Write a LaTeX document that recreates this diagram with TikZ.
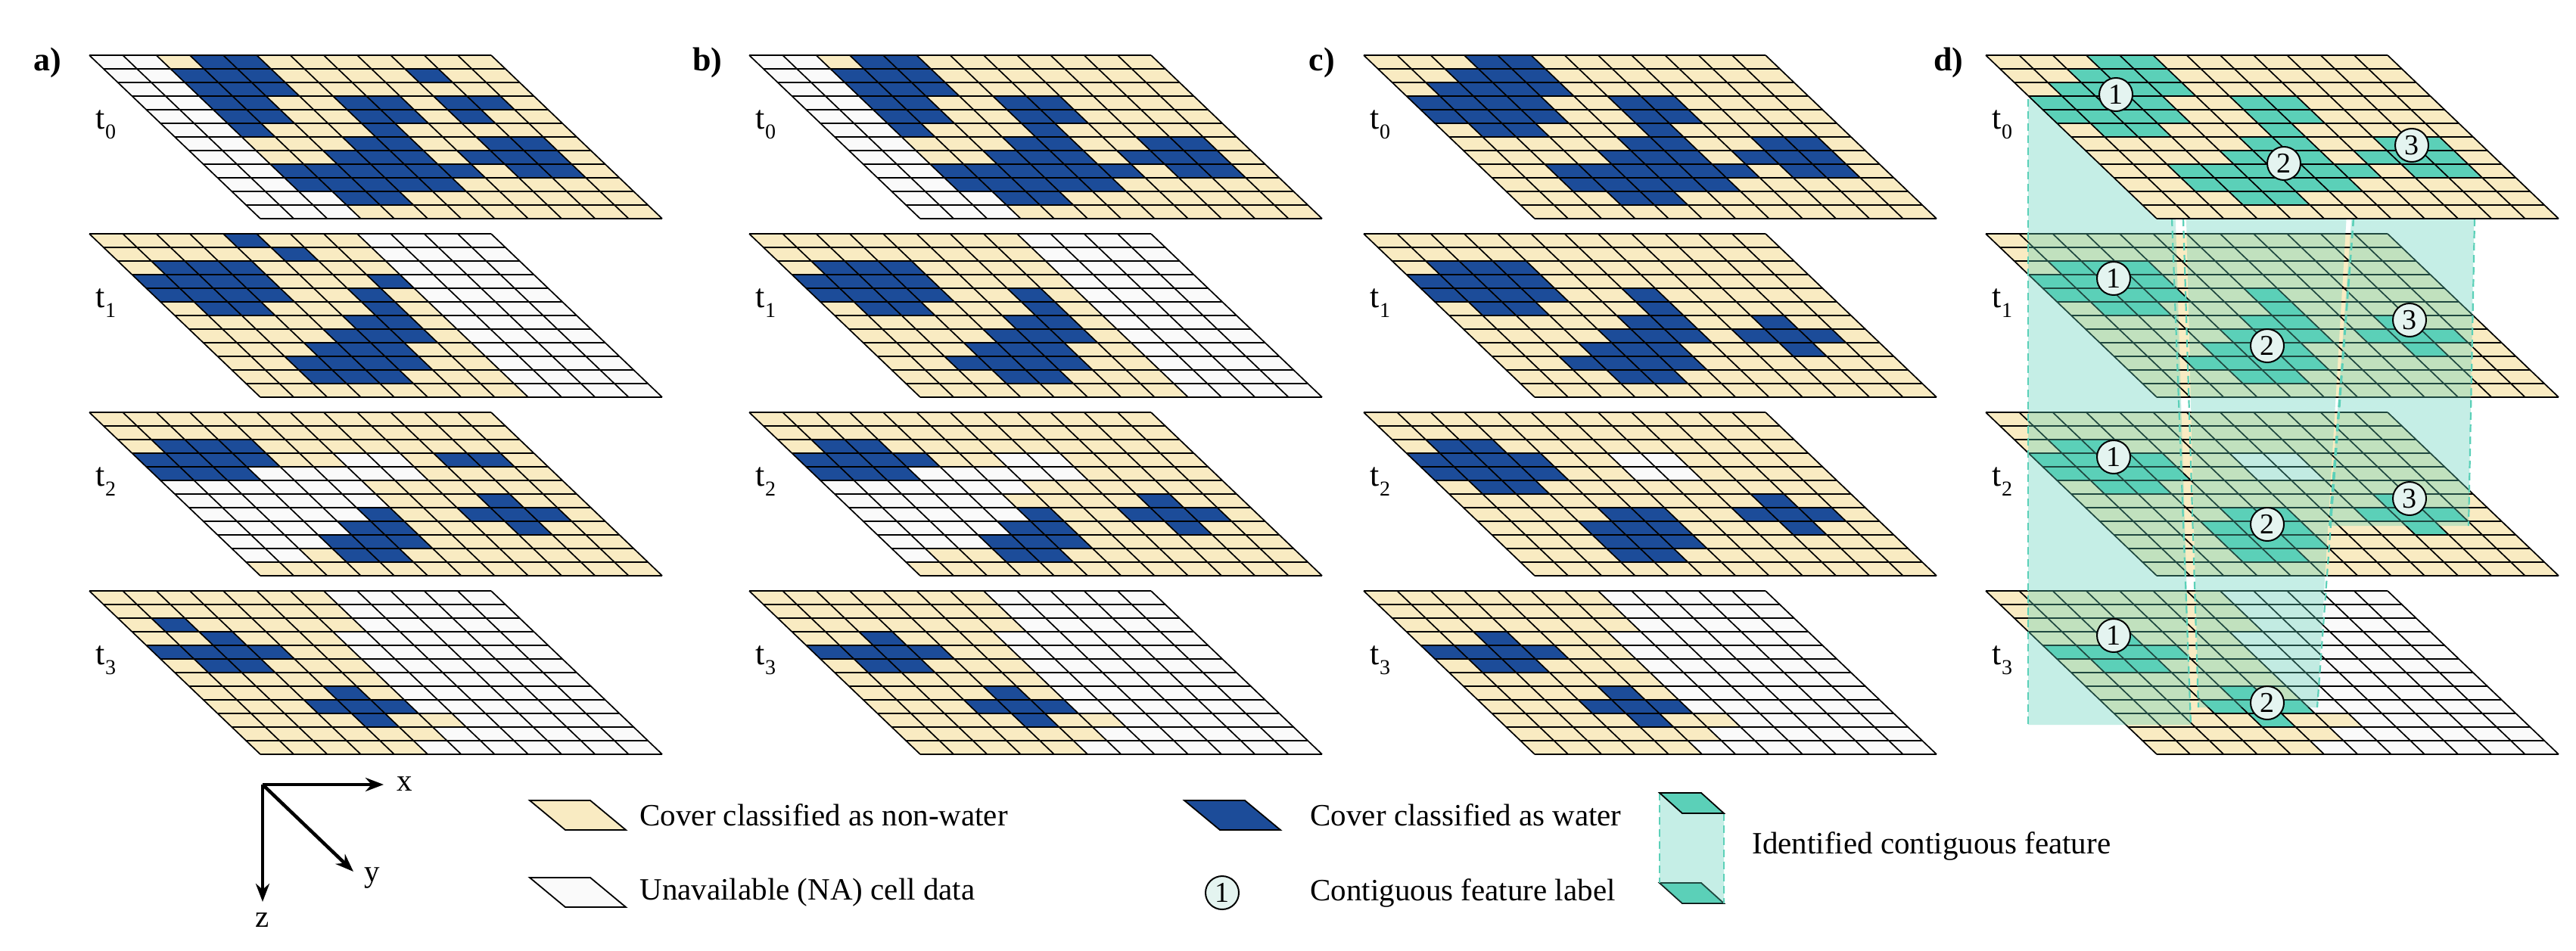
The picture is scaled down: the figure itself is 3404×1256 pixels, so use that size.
\documentclass[tikz,border=0pt]{standalone}
\usepackage{fontspec}
\setmainfont{Liberation Serif}
\usetikzlibrary{arrows.meta}
\definecolor{ylw}{RGB}{249,235,194}
\definecolor{blu}{RGB}{28,76,153}
\definecolor{tea}{RGB}{91,208,184}
\definecolor{nac}{RGB}{250,250,250}
\definecolor{lbl}{RGB}{228,244,240}
\newcount\cc \newcount\rr
\def\cellrow#1{\global\cc=0 \cellrowi#1\relax}
\def\cellrowi#1{\ifx#1\relax\else\fill[c#1] ({\X+\the\cc*44.25+\the\rr*18.83},{\Y+\the\rr*18}) -- ++(44.25,0) -- ++(18.83,18) -- ++(-44.25,0) -- cycle;\global\advance\cc by 1 \expandafter\cellrowi\fi}
\newcommand\ly[4]{%
  \def\X{#1}\def\Y{#2}%
  \foreach \rs [count=\ri from 0] in {#4}{\global\rr=\ri \expandafter\cellrow\expandafter{\rs}}%
  \foreach \i in {0,...,12}{\draw[gridl] ({\X+\i*18.83},{\Y+\i*18}) -- ++(531,0);}%
  \foreach \i in {0,...,12}{\draw[gridl] ({\X+\i*44.25},\Y) -- ++(226,216);}%
  \node[tlab] (tl#3) at ({\X+22},{\Y+92}) {t\raisebox{-0.3em}{\fontsize{28}{28}\selectfont #3}};}
\tikzset{
  cY/.style={fill=ylw}, cB/.style={fill=blu}, cW/.style={fill=nac}, cT/.style={fill=tea},
  gridl/.style={black, line width=1.7pt},
  tlab/.style={font=\rmfamily\fontsize{44}{44}\selectfont},
  plab/.style={font=\rmfamily\fontsize{44}{44}\selectfont\bfseries},
  lgtxt/.style={anchor=west, font=\rmfamily\fontsize{41}{41}\selectfont},
  fbox/.style={fill=tea, fill opacity=0.35},
  fedge/.style={tea, line width=2.2pt, dash pattern=on 10pt off 6pt},
  flab/.style={circle, draw=black, line width=2pt, fill=lbl, minimum size=44pt, inner sep=0pt, font=\rmfamily\fontsize{38}{38}\selectfont},
  axis/.style={line width=4.5pt, -{Stealth[length=24pt,width=18pt]}},
}
\begin{document}
\begin{tikzpicture}[x=1pt,y=-1pt]
\fill[white] (0,0) rectangle (3404,1256);
\useasboundingbox (0,0) rectangle (3404,1256);
% ---------- panel a ----------
\node[plab] (pa) at (63,83) {a)};
\ly{118}{73}{0}{WWYBBYYYYYYY,WWBBBYYYYBYY,WWBBBYYYYYYY,WWBBYYBBYBBY,WWBBYYBBYBYY,WWBYYYBYYYYY,WWYYYBBYYBBY,WWYYBBBYBBBY,WWBBBBBBYBBY,WWBBBBBYYYYY,WWWBBYYYYYYY,WWWYYYYYYYYY}
\ly{118}{309}{1}{YYYYBYYYWWWW,YYYYYBYYWWWW,YBBBYYYYWWWW,BBBBYYYBWWWW,BBBBYYBYWWWW,YBBYYYBYWWWW,YYYYYBBYWWWW,YYYYBBBYWWWW,YYYBBBYYWWWW,YYBBBBYYWWWW,YYBBBYYYWWWW,YYYYYYYYWWWW}
\ly{118}{545}{2}{YYYYYYYYYYYY,YYYYYYYYYYYY,YBBBYYYYYYYY,BBBBYYWWYBBY,BBBWWWWWYYYY,WWWWWWYYYYYY,WWWWWWYYYBYY,WWWWWBYYBBBY,WWWWBBYYYBYY,WWWBBBYYYYYY,WWYBBYYYYYYY,YYYYYYYYYYYY}
\ly{118}{781}{3}{YYYYYYYWWWWW,YYYYYYYWWWWW,YBYYYYYWWWWW,YYBYYYWWWWWW,BBBBYYWWWWWW,YBBYYYWWWWWW,YYYYYYWWWWWW,YYYYBYWWWWWW,YYYBBBWWWWWW,YYYYBYYWWWWW,YYYYYYWWWWWW,YYYYYWWWWWWW}
% ---------- panel b ----------
\node[plab] (pb) at (935,83) {b)};
\ly{990}{73}{0}{WWYBBYYYYYYY,WWBBBYYYYYYY,WWBBBYYYYYYY,WWBBYYBBYYYY,WWBBYYBBYYYY,WWBYYYBYYYYY,WWYYYBBYYBBY,WWYYBBBYBBBY,WWBBBBBBYBBY,WWBBBBBYYYYY,WWWBBYYYYYYY,WWWYYYYYYYYY}
\ly{990}{309}{1}{YYYYYYYYWWWW,YYYYYYYYWWWW,YBBBYYYYWWWW,BBBBYYYYWWWW,BBBBYYBYWWWW,YBBYYYBYWWWW,YYYYYBBYWWWW,YYYYBBBYWWWW,YYYBBBYYWWWW,YYBBBBYYWWWW,YYYBBYYYWWWW,YYYYYYYYWWWW}
\ly{990}{545}{2}{YYYYYYYYYYYY,YYYYYYYYYYYY,YBBYYYYYYYYY,BBBBYYWWYYYY,BBBWWWWWYYYY,WWWWWWYYYYYY,WWWWWYYYYBYY,WWWWWBYYBBBY,WWWWBBYYYBYY,WWWBBBYYYYYY,WYYBBYYYYYYY,YYYYYYYYYYYY}
\ly{990}{781}{3}{YYYYYYYWWWWW,YYYYYYYWWWWW,YYYYYYYWWWWW,YYBYYYWWWWWW,BBBBYYWWWWWW,YBBYYYWWWWWW,YYYYYYWWWWWW,YYYYBYWWWWWW,YYYBBBWWWWWW,YYYYBYYWWWWW,YYYYYYWWWWWW,YYYYYWWWWWWW}
% ---------- panel c ----------
\node[plab] (pc) at (1747,83) {c)};
\ly{1802}{73}{0}{YYYBBYYYYYYY,YYBBBYYYYYYY,YBBBBYYYYYYY,BBBBYYBBYYYY,BBBBYYBBYYYY,YBBYYYBYYYYY,YYYYYBBYYBBY,YYYYBBBYBBBY,YYBBBBBBYBBY,YYBBBBBYYYYY,YYYBBYYYYYYY,YYYYYYYYYYYY}
\ly{1802}{309}{1}{YYYYYYYYYYYY,YYYYYYYYYYYY,YBBBYYYYYYYY,BBBBYYYYYYYY,BBBBYYBYYYYY,YBBYYYBYYYYY,YYYYYBBYYBYY,YYYYBBBYBBBY,YYYBBBYYYBYY,YYBBBBYYYYYY,YYYBBYYYYYYY,YYYYYYYYYYYY}
\ly{1802}{545}{2}{YYYYYYYYYYYY,YYYYYYYYYYYY,YBBYYYYYYYYY,BBBBYYWWYYYY,BBBBYYWWYYYY,YBBYYYYYYYYY,YYYYYYYYYBYY,YYYYBBYYBBBY,YYYBBBYYYBYY,YYYBBBYYYYYY,YYYBBYYYYYYY,YYYYYYYYYYYY}
\ly{1802}{781}{3}{YYYYYYYWWWWW,YYYYYYYWWWWW,YYYYYYYWWWWW,YYBYYYWWWWWW,BBBBYYWWWWWW,YBBYYYWWWWWW,YYYYYYWWWWWW,YYYYBYWWWWWW,YYYBBBWWWWWW,YYYYBYYWWWWW,YYYYYYWWWWWW,YYYYYWWWWWWW}
% ---------- panel d ----------
\node[plab] (pd) at (2575,83) {d)};
\ly{2624}{781}{3}{YYYYYYYWWWWW,YYYYYYYWWWWW,YYYYYYYWWWWW,YYTYYYWWWWWW,TTTTYYWWWWWW,YTTYYYWWWWWW,YYYYYYWWWWWW,YYYYTYWWWWWW,YYYTTTWWWWWW,YYYYTYYWWWWW,YYYYYYWWWWWW,YYYYYWWWWWWW}
\ly{2624}{545}{2}{YYYYYYYYYYYY,YYYYYYYYYYYY,YTTYYYYYYYYY,TTTTYYWWYYYY,TTTTYYWWYYYY,YTTYYYYYYYYY,YYYYYYYYYTYY,YYYYTTYYTTTY,YYYTTTYYYTYY,YYYTTTYYYYYY,YYYTTYYYYYYY,YYYYYYYYYYYY}
\ly{2624}{309}{1}{YYYYYYYYYYYY,YYYYYYYYYYYY,YTTTYYYYYYYY,TTTTYYYYYYYY,TTTTYYTYYYYY,YTTYYYTYYYYY,YYYYYTTYYTYY,YYYYTTTYTTTY,YYYTTTYYYTYY,YYTTTTYYYYYY,YYYTTYYYYYYY,YYYYYYYYYYYY}
% feature volumes
\fill[fbox] (2680,131) -- (2870,131) -- (2895,958) -- (2680,958) -- cycle;
\fill[fbox] (2885,131) -- (3110,131) -- (3062,935) -- (2905,935) -- cycle;
\fill[fbox] (3110,250) -- (3270,250) -- (3262,695) -- (3078,695) -- cycle;
\coordinate (e1a) at (2680,131); \coordinate (e1b) at (2680,958);
\coordinate (e2a) at (2870,289); \coordinate (e2b) at (2895,958);
\coordinate (e3a) at (2885,289); \coordinate (e3b) at (2905,935);
\coordinate (e4a) at (3110,289); \coordinate (e4b) at (3062,935);
\coordinate (e5a) at (3110,289); \coordinate (e5b) at (3078,695);
\coordinate (e6a) at (3270,289); \coordinate (e6b) at (3262,695);
\foreach \e in {1,...,6}{\draw[fedge] (e\e a) -- (e\e b);}
\ly{2624}{73}{0}{YYYTTYYYYYYY,YYTTTYYYYYYY,YTTTTYYYYYYY,TTTTYYTTYYYY,TTTTYYTTYYYY,YTTYYYTYYYYY,YYYYYTTYYTTY,YYYYTTTYTTTY,YYTTTTTTYTTY,YYTTTTTYYYYY,YYYTTYYYYYYY,YYYYYYYYYYYY}
% feature labels
\node[flab] (l01) at (2796,125) {1};
\node[flab] (l02) at (3018,216) {2};
\node[flab] (l03) at (3187,192) {3};
\node[flab] (l11) at (2793,368) {1};
\node[flab] (l12) at (2996,457) {2};
\node[flab] (l13) at (3184,423) {3};
\node[flab] (l21) at (2793,604) {1};
\node[flab] (l22) at (2996,693) {2};
\node[flab] (l23) at (3184,659) {3};
\node[flab] (l31) at (2793,840) {1};
\node[flab] (l32) at (2996,929) {2};
% ---------- legend ----------
\coordinate (o) at (347,1037);
\coordinate (ax) at (507,1037);
\coordinate (az) at (347,1192);
\coordinate (ay) at (467,1152);
\draw[axis] (o) -- (ax);
\draw[axis] (o) -- (az);
\draw[axis] (o) -- (ay);
\node[font=\rmfamily\fontsize{41}{41}\selectfont] (lx) at (535,1036) {x};
\node[font=\rmfamily\fontsize{41}{41}\selectfont] (lz) at (347,1216) {z};
\node[font=\rmfamily\fontsize{41}{41}\selectfont] (lyy) at (492,1160) {y};
\draw[fill=ylw, line width=1.8pt] (700,1058) -- (780,1058) -- (827,1097) -- (747,1097) -- cycle;
\node[lgtxt] (t1) at (842,1077) {Cover classified as non-water};
\draw[fill=nac, line width=1.8pt] (700,1160) -- (780,1160) -- (827,1199) -- (747,1199) -- cycle;
\node[lgtxt] (t2) at (842,1180) {Unavailable (NA) cell data};
\draw[fill=blu, line width=1.8pt] (1565,1058) -- (1645,1058) -- (1692,1097) -- (1612,1097) -- cycle;
\node[lgtxt] (t3) at (1728,1077) {Cover classified as water};
\node[flab] (lg1) at (1615,1180) {1};
\node[lgtxt] (t4) at (1728,1180) {Contiguous feature label};
\draw[fill=tea, line width=1.8pt] (2193,1167) -- (2248,1167) -- (2278,1194) -- (2223,1194) -- cycle;
\fill[fbox] (2193,1048) -- (2248,1048) -- (2278,1075) -- (2278,1194) -- (2223,1194) -- (2193,1167) -- cycle;
\coordinate (g1a) at (2193,1048); \coordinate (g1b) at (2193,1167);
\coordinate (g2a) at (2278,1075); \coordinate (g2b) at (2278,1194);
\draw[fedge] (g1a) -- (g1b);
\draw[fedge] (g2a) -- (g2b);
\draw[fill=tea, line width=1.8pt] (2193,1048) -- (2248,1048) -- (2278,1075) -- (2223,1075) -- cycle;
\node[lgtxt] (t5) at (2312,1118) {Identified contiguous feature};
\end{tikzpicture}
\end{document}
